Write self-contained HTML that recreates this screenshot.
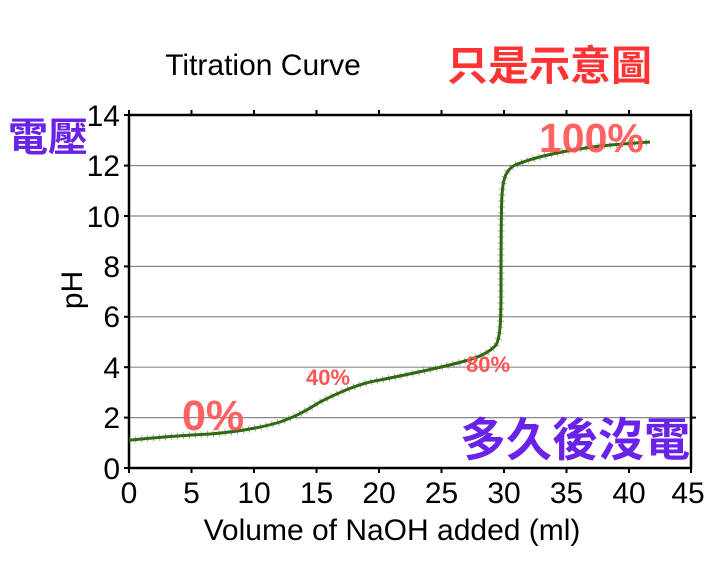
<!DOCTYPE html>
<html><head><meta charset="utf-8"><style>
html,body{margin:0;padding:0;background:#fff;}
svg{display:block;}
</style></head><body>
<svg width="725" height="584" xmlns="http://www.w3.org/2000/svg" font-family="Liberation Sans, sans-serif">
<rect width="725" height="584" fill="#fff"/>
<text x="263" y="75" font-size="30" text-anchor="middle" fill="#000">Titration Curve</text>
<g stroke="#888" stroke-width="1.2">
<line x1="129" x2="691" y1="417.6" y2="417.6"/>
<line x1="129" x2="691" y1="367.2" y2="367.2"/>
<line x1="129" x2="691" y1="316.8" y2="316.8"/>
<line x1="129" x2="691" y1="266.4" y2="266.4"/>
<line x1="129" x2="691" y1="216" y2="216"/>
<line x1="129" x2="691" y1="165.6" y2="165.6"/>
</g>
<rect x="129" y="115" width="562" height="353" fill="none" stroke="#000" stroke-width="2.5"/>
<g stroke="#000" stroke-width="2">
<line x1="129" x2="129" y1="468" y2="473"/><line x1="191.5" x2="191.5" y1="468" y2="473"/><line x1="254" x2="254" y1="468" y2="473"/><line x1="316.5" x2="316.5" y1="468" y2="473"/><line x1="379" x2="379" y1="468" y2="473"/><line x1="441.5" x2="441.5" y1="468" y2="473"/><line x1="504" x2="504" y1="468" y2="473"/><line x1="566.5" x2="566.5" y1="468" y2="473"/><line x1="629" x2="629" y1="468" y2="473"/><line x1="691" x2="691" y1="468" y2="473"/>
<line x1="129" x2="129" y1="115" y2="110"/><line x1="191.5" x2="191.5" y1="115" y2="110"/><line x1="254" x2="254" y1="115" y2="110"/><line x1="316.5" x2="316.5" y1="115" y2="110"/><line x1="379" x2="379" y1="115" y2="110"/><line x1="441.5" x2="441.5" y1="115" y2="110"/><line x1="504" x2="504" y1="115" y2="110"/><line x1="566.5" x2="566.5" y1="115" y2="110"/><line x1="629" x2="629" y1="115" y2="110"/><line x1="691" x2="691" y1="115" y2="110"/>
<line x1="124" x2="129" y1="468" y2="468"/><line x1="124" x2="129" y1="417.6" y2="417.6"/><line x1="124" x2="129" y1="367.2" y2="367.2"/><line x1="124" x2="129" y1="316.8" y2="316.8"/><line x1="124" x2="129" y1="266.4" y2="266.4"/><line x1="124" x2="129" y1="216" y2="216"/><line x1="124" x2="129" y1="165.6" y2="165.6"/><line x1="124" x2="129" y1="115" y2="115"/>
<line x1="691" x2="696" y1="417.6" y2="417.6"/><line x1="691" x2="696" y1="367.2" y2="367.2"/><line x1="691" x2="696" y1="316.8" y2="316.8"/><line x1="691" x2="696" y1="266.4" y2="266.4"/><line x1="691" x2="696" y1="216" y2="216"/><line x1="691" x2="696" y1="165.6" y2="165.6"/>
</g>
<g font-size="30" fill="#000" text-anchor="middle">
<text x="129" y="503">0</text><text x="191.5" y="503">5</text><text x="254" y="503">10</text><text x="316.5" y="503">15</text><text x="379" y="503">20</text><text x="441.5" y="503">25</text><text x="504" y="503">30</text><text x="566.5" y="503">35</text><text x="629" y="503">40</text><text x="688" y="503">45</text>
</g>
<g font-size="30" fill="#000" text-anchor="end">
<text x="120" y="479">0</text><text x="120" y="428">2</text><text x="120" y="378">4</text><text x="120" y="327">6</text><text x="120" y="277">8</text><text x="120" y="227">10</text><text x="120" y="176">12</text><text x="120" y="126">14</text>
</g>
<text x="392" y="540" font-size="30" text-anchor="middle">Volume of NaOH added (ml)</text>
<text transform="translate(82,290) rotate(-90)" font-size="30" text-anchor="middle">pH</text>
<path d="M129,440.3 C160,437 190,435 210,434 C235,432 260,428 280,422 C300,415 310,408 320,402 C340,392 360,383 380,380 C410,374 440,368 465,361 C480,357 490,352 496,345 C500,338 501,325 501,290 C501,240 501,210 502,195 C503,178 506,170 515,165 C540,155 570,150 600,146 C620,144 635,143 650,142"
 fill="none" stroke="#2d6a0a" stroke-width="3"/>
<path d="M129,440.3 C160,437 190,435 210,434 C235,432 260,428 280,422 C300,415 310,408 320,402 C340,392 360,383 380,380 C410,374 440,368 465,361 C480,357 490,352 496,345 C500,338 501,325 501,290 C501,240 501,210 502,195 C503,178 506,170 515,165 C540,155 570,150 600,146 C620,144 635,143 650,142"
 fill="none" stroke="#555" stroke-width="7" stroke-dasharray="1 5" opacity="0.5"/>
<g font-family="Liberation Sans, 'Noto Sans CJK TC', sans-serif" font-weight="bold">
<text x="447" y="80" font-size="41" fill="#ff3333">只是示意圖</text>
<text x="8" y="151" font-size="40" fill="#6a22e8">電壓</text>
<text x="460" y="456" font-size="46" fill="#6a22e8">多久後沒電</text>
<text x="539" y="152" font-size="41" fill="#ff5555" opacity="0.92">100%</text>
<text x="182" y="430" font-size="43" fill="#ff5555" opacity="0.92">0%</text>
<text x="306" y="385" font-size="22" fill="#ff5555">40%</text>
<text x="466" y="372" font-size="22" fill="#ff5555">80%</text>
</g>
</svg>
</body></html>
